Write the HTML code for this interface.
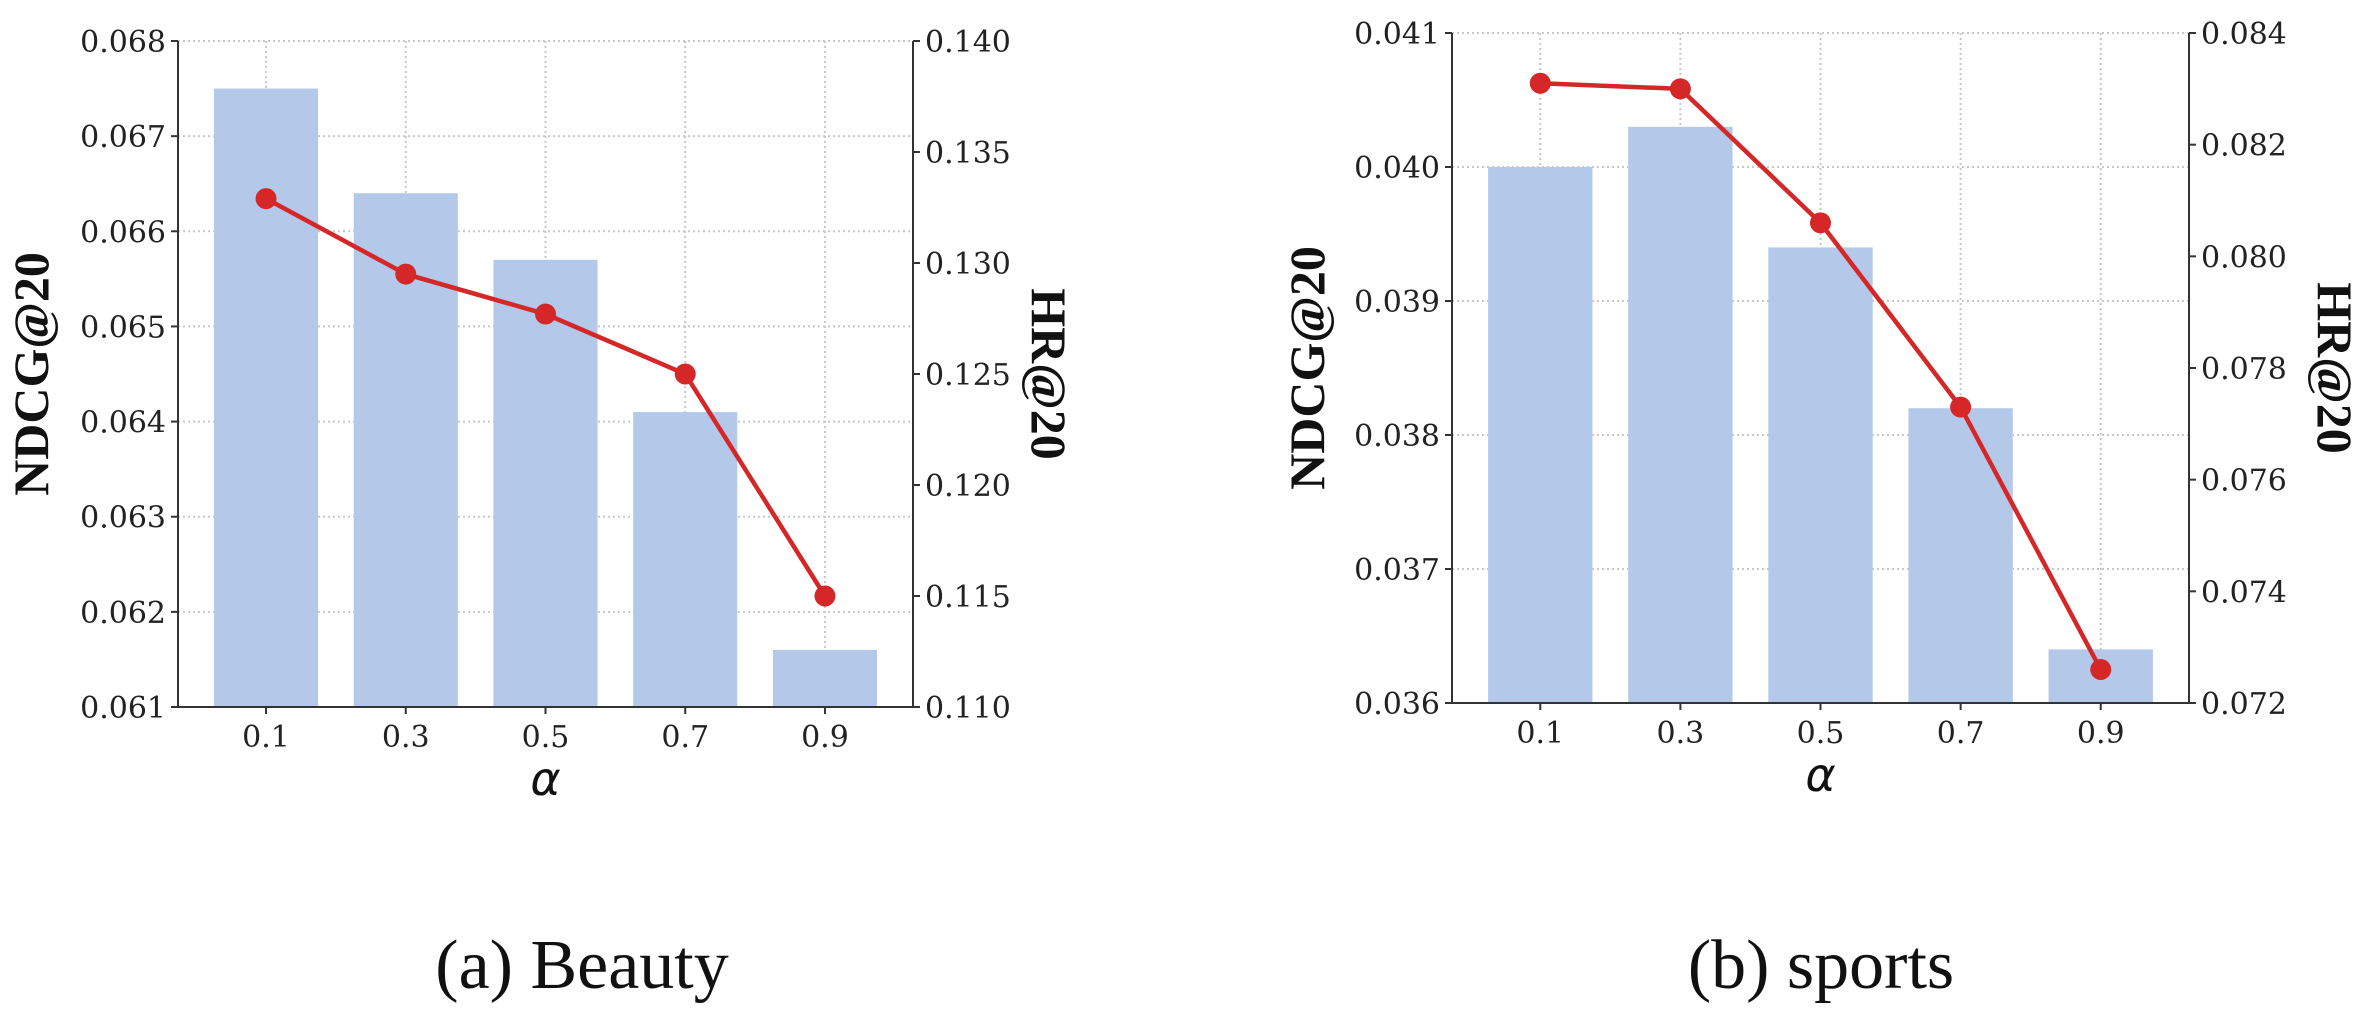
<!DOCTYPE html>
<html><head><meta charset="utf-8"><style>
html,body{margin:0;padding:0;background:#fff;}
svg{display:block;}
</style></head><body>
<svg id="fig" width="2365" height="1025" viewBox="0 0 2365 1025" xmlns="http://www.w3.org/2000/svg"></svg>
<script>
const categories = ["0.1","0.3","0.5","0.7","0.9"];
const beautyNdcg = [0.0675, 0.0664, 0.0657, 0.0641, 0.0616];
const beautyHr = [0.1329, 0.1295, 0.1277, 0.1250, 0.1150];
const beautyLeftTicks = [0.061,0.062,0.063,0.064,0.065,0.066,0.067,0.068];
const beautyRightTicks = [0.110,0.115,0.120,0.125,0.130,0.135,0.140];
const sportsNdcg = [0.0400, 0.0403, 0.0394, 0.0382, 0.0364];
const sportsHr = [0.0831, 0.0830, 0.0806, 0.0773, 0.0726];
const sportsLeftTicks = [0.036,0.037,0.038,0.039,0.040,0.041];
const sportsRightTicks = [0.072,0.074,0.076,0.078,0.080,0.082,0.084];

const NS="http://www.w3.org/2000/svg";
const svg=document.getElementById('fig');
function mk(tag,attrs,parent,text){const e=document.createElementNS(NS,tag);for(const k in attrs)e.setAttribute(k,attrs[k]);if(text!==undefined)e.textContent=text;(parent||svg).appendChild(e);return e;}

function chart(cfg){
  const g=mk('g',{});
  
  
  const L=cfg.left,R=cfg.right,T=cfg.top,B=cfg.bottom;
  const lmin=cfg.lt[0],lmax=cfg.lt[cfg.lt.length-1];
  const rmin=cfg.rt[0],rmax=cfg.rt[cfg.rt.length-1];
  const yL=v=>B-(v-lmin)/(lmax-lmin)*(B-T);
  const yR=v=>B-(v-rmin)/(rmax-rmin)*(B-T);
  const padF=0.63;
  const step=(R-L)/(categories.length-1+2*padF);
  const xC=i=>L+step*(padF+i);
  const bw=step*0.745;
  cfg.lt.forEach(v=>{const l=mk('line',{x1:L,x2:R,y1:yL(v),y2:yL(v),stroke:'#c8c8c8','stroke-width':2,'stroke-dasharray':'2,3'},g);
    });
  categories.forEach((c,i)=>{const l=mk('line',{x1:xC(i),x2:xC(i),y1:T,y2:B,stroke:'#c8c8c8','stroke-width':2,'stroke-dasharray':'2,3'},g);
    });
  cfg.bars.forEach((v,i)=>{const r=mk('rect',{x:xC(i)-bw/2,y:yL(v),width:bw,height:B-yL(v),fill:'#b4c9ea'},g);
    });
  const pts=cfg.line.map((v,i)=>xC(i)+','+yR(v)).join(' ');
  const pl=mk('polyline',{points:pts,fill:'none',stroke:'#d62728','stroke-width':4.5},g);
  
  cfg.line.forEach((v,i)=>{const c=mk('circle',{cx:xC(i),cy:yR(v),r:10.5,fill:'#d62728'},g);
    });
  const sp=[[L,T,L,B],[L,B,R,B],[R,T,R,B]];
  sp.forEach(s=>{const l=mk('line',{x1:s[0],y1:s[1],x2:s[2],y2:s[3],stroke:'#333','stroke-width':2},g);
    });
  const tf='"DejaVu Serif", "Liberation Serif", serif';
  cfg.lt.forEach(v=>{mk('line',{x1:L-7,x2:L,y1:yL(v),y2:yL(v),stroke:'#333','stroke-width':2},g);
    const t=mk('text',{x:L-12,y:yL(v)+11,'text-anchor':'end','font-family':tf,'font-size':30,fill:'#222'},g,v.toFixed(3));
    });
  cfg.rt.forEach(v=>{mk('line',{x1:R,x2:R+7,y1:yR(v),y2:yR(v),stroke:'#333','stroke-width':2},g);
    const t=mk('text',{x:R+12,y:yR(v)+11,'font-family':tf,'font-size':30,fill:'#222'},g,v.toFixed(3));
    });
  categories.forEach((c,i)=>{mk('line',{x1:xC(i),x2:xC(i),y1:B,y2:B+7,stroke:'#333','stroke-width':2},g);
    const t=mk('text',{x:xC(i),y:B+40,'text-anchor':'middle','font-family':tf,'font-size':30,fill:'#222'},g,c);
    });
  const xl=mk('text',{x:(L+R)/2,y:B+88,'text-anchor':'middle','font-family':'"DejaVu Sans", sans-serif','font-style':'italic','font-size':46,fill:'#111'},g,'α');
  
  const yl=mk('text',{x:0,y:0,'text-anchor':'middle','font-family':'"Liberation Serif", serif','font-weight':'bold','font-size':50,fill:'#111',transform:`translate(${cfg.ylx},${(T+B)/2}) rotate(-90)`},g,'NDCG@20');
  
  const yr=mk('text',{x:0,y:0,'text-anchor':'middle','font-family':'"Liberation Serif", serif','font-weight':'bold','font-size':50,fill:'#111',transform:`translate(${cfg.yrx},${(T+B)/2}) rotate(90)`},g,'HR@20');
  
  const cap=mk('text',{x:cfg.capx,y:988,'text-anchor':'middle','font-family':'"Liberation Serif", serif','font-size':70,fill:'#111'},g,cfg.caption);
  
}
chart({name:'beauty-chart',left:178,right:913,top:41,bottom:707,lt:beautyLeftTicks,rt:beautyRightTicks,bars:beautyNdcg,line:beautyHr,ylx:48,yrx:1032,caption:'(a) Beauty',capx:582});
chart({name:'sports-chart',left:1452,right:2189,top:33,bottom:703,lt:sportsLeftTicks,rt:sportsRightTicks,bars:sportsNdcg,line:sportsHr,ylx:1324,yrx:2318,caption:'(b) sports',capx:1821});
</script>
</body></html>
